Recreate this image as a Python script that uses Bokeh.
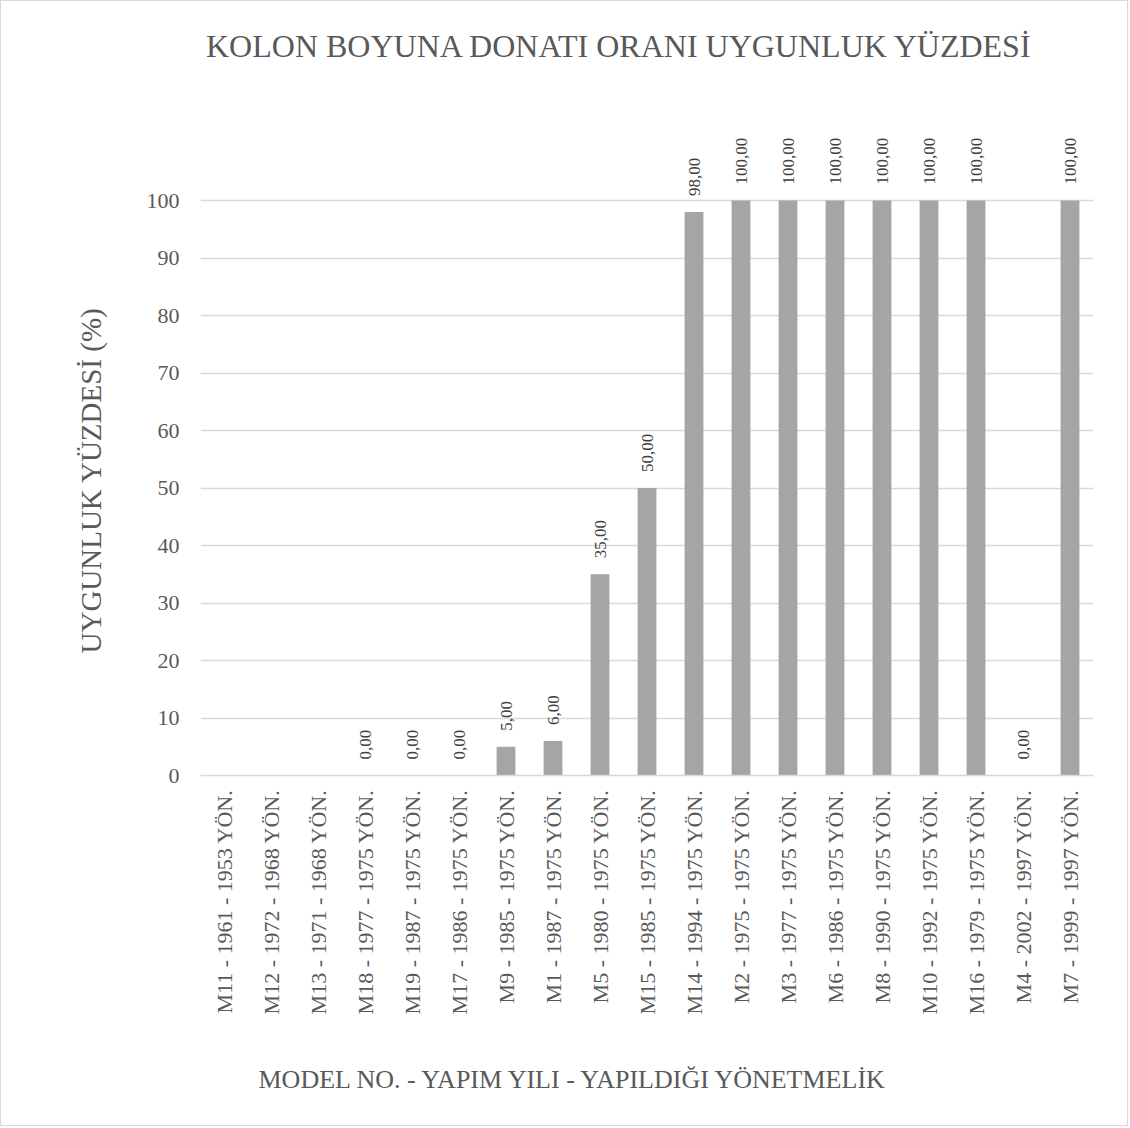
import math
from bokeh.plotting import figure
from bokeh.models import FactorRange, Range1d, FixedTicker, Title, ColumnDataSource
from bokeh.core.properties import value
from bokeh.embed import file_html
from bokeh.resources import INLINE

categories = [
    "M11 - 1961 - 1953 YÖN.", "M12 - 1972 - 1968 YÖN.", "M13 - 1971 - 1968 YÖN.",
    "M18 - 1977 - 1975 YÖN.", "M19 - 1987 - 1975 YÖN.", "M17 - 1986 - 1975 YÖN.",
    "M9 - 1985 - 1975 YÖN.", "M1 - 1987 - 1975 YÖN.", "M5 - 1980 - 1975 YÖN.",
    "M15 - 1985 - 1975 YÖN.", "M14 - 1994 - 1975 YÖN.", "M2 - 1975 - 1975 YÖN.",
    "M3 - 1977 - 1975 YÖN.", "M6 - 1986 - 1975 YÖN.", "M8 - 1990 - 1975 YÖN.",
    "M10 - 1992 - 1975 YÖN.", "M16 - 1979 - 1975 YÖN.", "M4 - 2002 - 1997 YÖN.",
    "M7 - 1999 - 1997 YÖN.",
]
values = [None, None, None, 0, 0, 0, 5, 6, 35, 50, 98, 100, 100, 100, 100, 100, 100, 0, 100]
y_ticks = [0, 10, 20, 30, 40, 50, 60, 70, 80, 90, 100]

title_text = "KOLON BOYUNA DONATI ORANI UYGUNLUK YÜZDESİ"
x_label_text = "MODEL NO. - YAPIM YILI - YAPILDIĞI YÖNETMELİK"
y_label_text = "UYGUNLUK YÜZDESİ (%)"

FONT = "Liberation Serif"
TXT = "#595959"

bar_src = ColumnDataSource(dict(
    x=categories,
    top=[float("nan") if v is None else v for v in values],
))
lab_x = [c for c, v in zip(categories, values) if v is not None]
lab_y = [v for v in values if v is not None]
lab_t = [f"{v:.2f}".replace(".", ",") for v in values if v is not None]
lab_src = ColumnDataSource(dict(x=lab_x, y=lab_y, t=lab_t))

W, H = 1128, 1126
BOTTOM = 352
FRAME_H = H - BOTTOM            # frame spans the canvas from its top edge
PX_PER_UNIT = 5.75               # 0 -> 774 px, 100 -> 199 px
y_end = FRAME_H / PX_PER_UNIT

p = figure(
    width=W, height=H,
    x_range=FactorRange(factors=categories, range_padding=0),
    y_range=Range1d(0, y_end),
    output_backend="svg", toolbar_location=None,
    min_border_left=199, min_border_right=36,
    min_border_top=0, min_border_bottom=BOTTOM,
    styles={"border": "1px solid #d9d9d9"},
)
p.outline_line_color = None
p.background_fill_color = "white"
p.border_fill_color = "white"

p.vbar(x="x", top="top", width=0.4, source=bar_src, fill_color="#a5a5a5", line_color=None)
p.text(x="x", y="y", text="t", source=lab_src, angle=math.pi / 2,
       text_align="left", text_baseline="middle", y_offset=-16,
       text_font=value(FONT), text_font_size="17px", text_color="#404040")

# chart title (drawn inside the extended frame, above the 100 line)
p.text(x=[categories[0]], y=[(FRAME_H - 44) / PX_PER_UNIT], text=[title_text],
       text_align="left", text_baseline="middle", x_offset=-18,
       text_font=value(FONT), text_font_size="32px", text_color=TXT)

# axes
p.yaxis.ticker = FixedTicker(ticks=y_ticks)
p.yaxis.axis_line_color = None
p.yaxis.major_tick_line_color = None
p.yaxis.minor_tick_line_color = None
p.yaxis.major_tick_out = 0
p.yaxis.major_tick_in = 0
p.yaxis.major_label_standoff = 21
p.yaxis.major_label_text_font = FONT
p.yaxis.major_label_text_font_size = "22px"
p.yaxis.major_label_text_color = TXT

p.xaxis.axis_line_color = "#d9d9d9"
p.xaxis.axis_line_width = 1.5
p.xaxis.major_tick_line_color = None
p.xaxis.major_tick_out = 0
p.xaxis.major_tick_in = 0
p.xaxis.major_label_orientation = math.pi / 2
p.xaxis.major_label_standoff = 14
p.xaxis.major_label_text_font = FONT
p.xaxis.major_label_text_font_size = "22px"
p.xaxis.major_label_text_color = TXT

p.xgrid.grid_line_color = None
p.ygrid.grid_line_color = "#d9d9d9"
p.ygrid.grid_line_width = 1.5

# axis titles
p.add_layout(Title(text=y_label_text, align="left", offset=122, standoff=74,
                   text_font=FONT, text_font_size="29px", text_font_style="normal",
                   text_color=TXT), "left")
# white spacer between the category labels and the x-axis title
p.add_layout(Title(text=".", standoff=0, text_font=FONT, text_font_size="56px",
                   text_color="white"), "below")
p.add_layout(Title(text=x_label_text, align="left", offset=58, standoff=10,
                   text_font=FONT, text_font_size="26px", text_font_style="normal",
                   text_color=TXT), "below")

open("out.html", "w").write(file_html(p, INLINE))
